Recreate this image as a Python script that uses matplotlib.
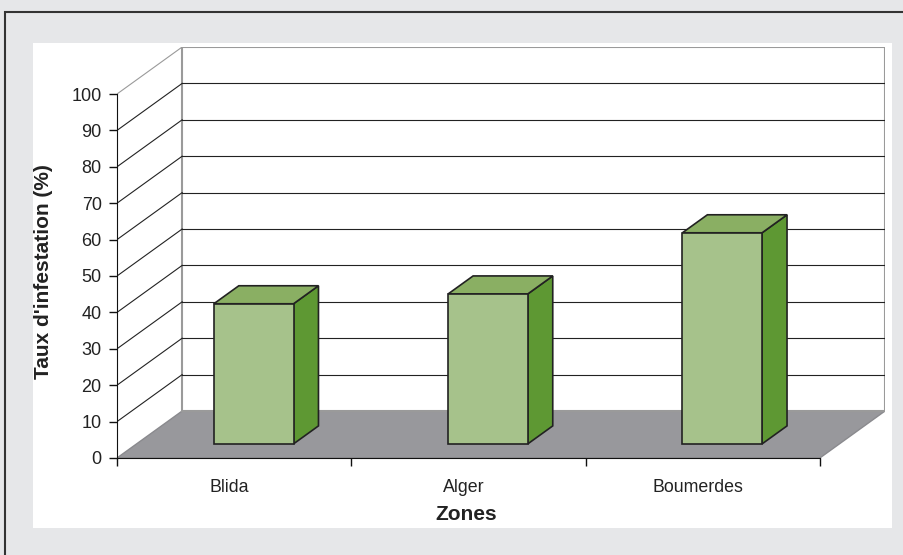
import matplotlib
matplotlib.use('Agg')
import matplotlib.pyplot as plt
from matplotlib.patches import Rectangle, Polygon

plt.rcParams['font.family'] = ['Liberation Sans', 'DejaVu Sans']

zones = ['Blida', 'Alger', 'Boumerdes']
taux = [38.5, 41.2, 58.0]
yticks = list(range(0, 101, 10))

W, H = 904, 555
fig = plt.figure(figsize=(W / 100, H / 100), dpi=100)
fig.patch.set_facecolor('#e6e7e9')

def fx(px):
    return px / W

def fy(py):
    return 1 - py / H

# outer frame (only left and top edges are visible) and white panel
fig.patches.append(Rectangle((fx(5), fy(700)), fx(1100) - fx(5), fy(12) - fy(700),
                             transform=fig.transFigure, fill=False, ec='#333333', lw=1.5,
                             zorder=-2))
fig.patches.append(Rectangle((fx(33), fy(528)), fx(892) - fx(33), fy(43) - fy(528),
                             transform=fig.transFigure, fc='white', ec='none', zorder=-2))

# depth offset of the pseudo-3d box (in data units)
dx = 65 / 233.7
dy = 47 / 3.64
ncat = len(zones)

ax = fig.add_axes([fx(117), fy(458), fx(885) - fx(117), fy(47) - fy(458)])
ax.set_xlim(0, ncat + dx)
ax.set_ylim(0, 100 + dy)
ax.patch.set_visible(False)

# floor
ax.add_patch(Polygon([(0, 0), (ncat, 0), (ncat + dx, dy), (dx, dy)],
                     closed=True, fc='#98989c', ec='#8a8a8e', lw=1, zorder=1))
# back wall
ax.add_patch(Rectangle((dx, dy), ncat, 100, fc='white', ec='#9a9a9a', lw=1.5, zorder=1))
for v in yticks[1:-1]:
    ax.plot([dx, ncat + dx], [v + dy, v + dy], color='#222222', lw=0.8, zorder=2)
# left wall diagonals
for v in yticks[1:]:
    c = '#9a9a9a' if v == 100 else '#222222'
    ax.plot([0, dx], [v, v + dy], color=c, lw=0.8, zorder=2)

# bars
d0, d1 = 0.30, 0.683
hw = 0.17
for i, v in enumerate(taux):
    xl = i + 0.5 - hw
    xr = i + 0.5 + hw
    side = Polygon([(xr + d0 * dx, d0 * dy), (xr + d1 * dx, d1 * dy),
                    (xr + d1 * dx, v + d1 * dy), (xr + d0 * dx, v + d0 * dy)],
                   closed=True, fc='#5e9833', ec='#222222', lw=1.2, zorder=3)
    top = Polygon([(xl + d0 * dx, v + d0 * dy), (xr + d0 * dx, v + d0 * dy),
                   (xr + d1 * dx, v + d1 * dy), (xl + d1 * dx, v + d1 * dy)],
                  closed=True, fc='#8aaf63', ec='#222222', lw=1.2, zorder=3)
    front = Rectangle((xl + d0 * dx, d0 * dy), 2 * hw, v, fc='#a6c28b',
                      ec='#222222', lw=1.2, zorder=4)
    ax.add_patch(side)
    ax.add_patch(top)
    ax.add_patch(front)

# axes
for s in ['top', 'right']:
    ax.spines[s].set_visible(False)
ax.spines['left'].set_bounds(0, 100)
ax.spines['bottom'].set_bounds(0, ncat)
ax.spines['left'].set_color('#111111')
ax.spines['bottom'].set_color('#111111')
ax.spines['left'].set_zorder(5)
ax.spines['bottom'].set_zorder(5)
ax.set_yticks(yticks)
ax.set_yticklabels([str(v) for v in yticks], fontsize=13, color='#222222')
ax.tick_params(axis='y', length=6, width=1, pad=5, color='#111111')
ax.set_xticks(range(ncat + 1))
ax.set_xticklabels([''] * (ncat + 1))
ax.tick_params(axis='x', which='major', length=6, width=1, color='#111111')
ax.set_xticks([i + 0.48 for i in range(ncat)], minor=True)
ax.set_xticklabels(zones, minor=True, fontsize=12.8, color='#222222')
ax.tick_params(axis='x', which='minor', length=0, pad=15)

fig.text(fx(44), fy(272), "Taux d'infestation (%)", rotation=90, ha='center', va='center',
         fontsize=15, fontweight='bold', color='#222222')
fig.text(fx(466), fy(514), 'Zones', ha='center', va='center',
         fontsize=15, fontweight='bold', color='#222222')

fig.savefig('out.png', dpi=100, facecolor=fig.get_facecolor())
